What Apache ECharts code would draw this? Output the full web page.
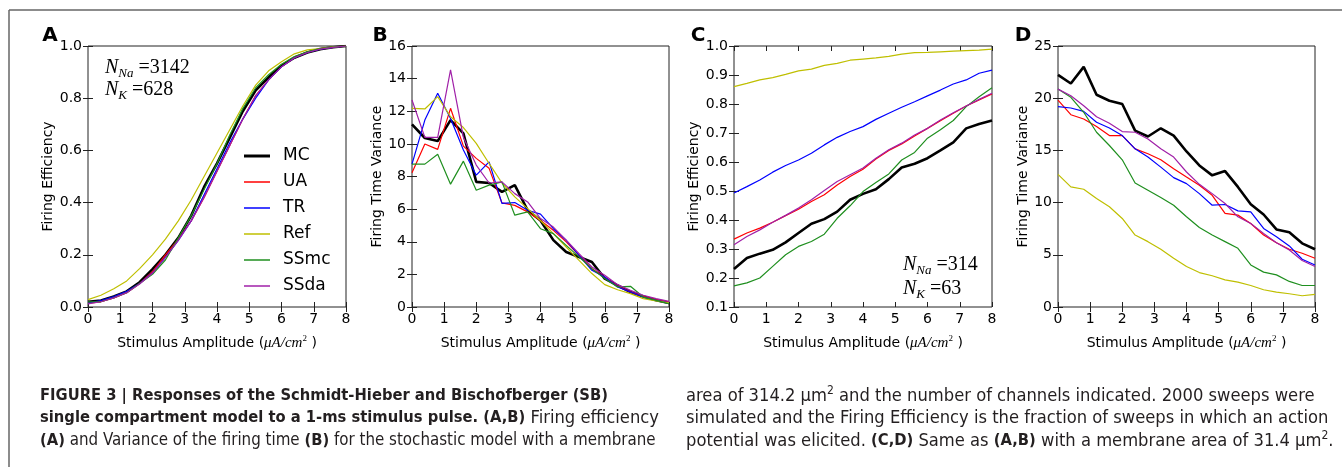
<!DOCTYPE html>
<html>
<head>
<meta charset="utf-8">
<script src="https://cdn.jsdelivr.net/npm/echarts@6/dist/echarts.min.js"></script>
<style>
  html, body { margin: 0; padding: 0; background: #fff; }
  #fig { width: 1342px; height: 467px; }
</style>
</head>
<body>
<div id="fig"></div>
<script>
// ── Data ────────────────────────────────────────────────────────────────
const xs = [0, 0.4, 0.8, 1.2, 1.6, 2.0, 2.4, 2.8, 3.2, 3.6, 4.0, 4.4, 4.8, 5.2, 5.6, 6.0, 6.4, 6.8, 7.2, 7.6, 8.0];
const names = ['MC', 'UA', 'TR', 'Ref', 'SSmc', 'SSda'];

// A: firing efficiency, 314.2 um^2
const aMC   = [0.02, 0.025, 0.04, 0.06, 0.095, 0.145, 0.20, 0.265, 0.35, 0.46, 0.55, 0.65, 0.75, 0.83, 0.88, 0.925, 0.955, 0.975, 0.988, 0.995, 1.0];
const aUA   = [0.015, 0.02, 0.035, 0.055, 0.09, 0.135, 0.20, 0.26, 0.33, 0.42, 0.52, 0.62, 0.72, 0.81, 0.87, 0.92, 0.955, 0.975, 0.99, 0.995, 1.0];
const aTR   = [0.015, 0.025, 0.04, 0.06, 0.09, 0.13, 0.19, 0.255, 0.33, 0.43, 0.53, 0.63, 0.72, 0.80, 0.87, 0.92, 0.955, 0.975, 0.988, 0.995, 1.0];
const aRef  = [0.028, 0.045, 0.07, 0.10, 0.147, 0.20, 0.26, 0.33, 0.41, 0.50, 0.59, 0.68, 0.77, 0.85, 0.905, 0.94, 0.97, 0.985, 0.99, 0.997, 1.0];
const aSSmc = [0.02, 0.02, 0.035, 0.055, 0.09, 0.125, 0.18, 0.265, 0.35, 0.45, 0.55, 0.66, 0.76, 0.84, 0.89, 0.93, 0.96, 0.978, 0.99, 0.996, 1.0];
const aSSda = [0.012, 0.02, 0.035, 0.055, 0.088, 0.13, 0.19, 0.255, 0.33, 0.42, 0.52, 0.62, 0.72, 0.81, 0.87, 0.92, 0.955, 0.975, 0.988, 0.995, 1.0];

// B: firing time variance, 314.2 um^2
const bMC   = [11.2, 10.36, 10.17, 11.46, 10.64, 7.67, 7.6, 7.06, 7.47, 5.93, 5.3, 4.1, 3.37, 3.07, 2.76, 1.74, 1.33, 0.92, 0.65, 0.41, 0.25];
const bUA   = [8.23, 9.99, 9.66, 12.18, 9.86, 9.11, 8.5, 6.38, 6.23, 5.83, 5.3, 4.7, 3.99, 3.17, 2.35, 1.84, 1.27, 0.92, 0.65, 0.45, 0.31];
const bTR   = [8.76, 11.46, 13.1, 11.56, 9.62, 8.08, 8.9, 6.35, 6.4, 5.93, 5.69, 4.8, 4.09, 3.17, 2.25, 1.84, 1.23, 0.92, 0.61, 0.41, 0.25];
const bRef  = [12.18, 12.14, 12.9, 11.66, 11.0, 10.03, 8.8, 7.6, 6.75, 6.03, 5.3, 4.5, 3.68, 2.86, 2.05, 1.37, 1.06, 0.82, 0.51, 0.37, 0.25];
const bSSmc = [8.76, 8.76, 9.36, 7.53, 8.94, 7.16, 7.47, 7.67, 5.63, 5.83, 4.8, 4.5, 3.78, 3.07, 2.35, 1.74, 1.23, 1.27, 0.61, 0.41, 0.2];
const bSSda = [12.69, 10.4, 10.4, 14.53, 10.4, 8.7, 7.6, 7.67, 6.95, 6.44, 5.42, 4.9, 4.09, 3.27, 2.45, 1.94, 1.37, 1.02, 0.72, 0.51, 0.35];

// C: firing efficiency, 31.4 um^2
const cMC   = [0.231, 0.269, 0.284, 0.297, 0.323, 0.355, 0.387, 0.403, 0.429, 0.47, 0.49, 0.506, 0.541, 0.581, 0.594, 0.613, 0.64, 0.668, 0.716, 0.731, 0.743];
const cUA   = [0.334, 0.355, 0.372, 0.392, 0.415, 0.437, 0.464, 0.487, 0.521, 0.55, 0.575, 0.61, 0.64, 0.662, 0.69, 0.716, 0.742, 0.768, 0.793, 0.814, 0.835];
const cTR   = [0.493, 0.515, 0.538, 0.565, 0.588, 0.607, 0.63, 0.659, 0.685, 0.705, 0.722, 0.747, 0.768, 0.789, 0.808, 0.828, 0.848, 0.869, 0.883, 0.906, 0.917];
const cRef  = [0.86, 0.871, 0.883, 0.891, 0.902, 0.914, 0.92, 0.933, 0.94, 0.951, 0.955, 0.959, 0.964, 0.972, 0.977, 0.978, 0.98, 0.982, 0.984, 0.986, 0.989];
const cSSmc = [0.173, 0.183, 0.2, 0.24, 0.28, 0.309, 0.326, 0.351, 0.406, 0.449, 0.498, 0.529, 0.559, 0.607, 0.633, 0.682, 0.711, 0.743, 0.791, 0.825, 0.856];
const cSSda = [0.315, 0.343, 0.366, 0.392, 0.416, 0.441, 0.47, 0.502, 0.533, 0.556, 0.579, 0.613, 0.642, 0.665, 0.693, 0.716, 0.745, 0.77, 0.793, 0.816, 0.837];

// D: firing time variance, 31.4 um^2
const dMC   = [22.24, 21.41, 23.0, 20.33, 19.76, 19.44, 16.9, 16.33, 17.12, 16.42, 14.9, 13.56, 12.61, 13.02, 11.5, 9.85, 8.86, 7.43, 7.15, 6.1, 5.53];
const dUA   = [19.82, 18.42, 18.01, 17.28, 16.42, 16.42, 15.15, 14.68, 14.1, 13.25, 12.45, 11.66, 10.7, 8.96, 8.8, 8.0, 6.89, 6.16, 5.53, 5.15, 4.67];
const dTR   = [19.19, 19.06, 18.74, 17.69, 17.15, 16.42, 15.15, 14.36, 13.4, 12.39, 11.82, 10.86, 9.75, 9.82, 9.21, 9.12, 7.53, 6.73, 5.85, 4.57, 4.03];
const dRef  = [12.71, 11.5, 11.28, 10.39, 9.6, 8.48, 6.89, 6.26, 5.53, 4.67, 3.88, 3.3, 2.99, 2.6, 2.38, 2.06, 1.65, 1.43, 1.27, 1.08, 1.21];
const dSSmc = [20.87, 20.08, 18.65, 16.74, 15.47, 14.1, 11.88, 11.18, 10.48, 9.75, 8.64, 7.62, 6.89, 6.26, 5.62, 4.03, 3.34, 3.08, 2.45, 2.06, 2.06];
const dSSda = [20.87, 20.24, 19.28, 18.23, 17.6, 16.8, 16.74, 16.1, 15.15, 14.36, 12.93, 11.75, 10.86, 9.91, 8.64, 8.0, 7.05, 6.16, 5.46, 4.45, 3.88];

// axis ranges per panel: [min, max, interval, decimals]
const yRanges = [[0, 1, 0.2, 1], [0, 16, 2, 0], [0.1, 1.0, 0.1, 1], [0, 25, 5, 0]];
const yTitles = ['Firing Efficiency', 'Firing Time Variance', 'Firing Efficiency', 'Firing Time Variance'];
const panelLetters = ['A', 'B', 'C', 'D'];

// ── Style ───────────────────────────────────────────────────────────────
const sans = 'DejaVu Sans';
const serif = 'Liberation Serif';
const colors = ['#000000', '#ff0000', '#0000ff', '#bfbf00', '#1f8f1f', '#a020a8'];
const widths = [2.6, 1.2, 1.2, 1.2, 1.2, 1.2];
const frameColor = '#222';

const grids = [
  { left: 88,   top: 46, width: 258, height: 261 },
  { left: 412,  top: 46, width: 257, height: 261 },
  { left: 734,  top: 46, width: 258, height: 261 },
  { left: 1058, top: 46, width: 257, height: 261 },
];

const panels = [
  [aMC, aUA, aTR, aRef, aSSmc, aSSda],
  [bMC, bUA, bTR, bRef, bSSmc, bSSda],
  [cMC, cUA, cTR, cRef, cSSmc, cSSda],
  [dMC, dUA, dTR, dRef, dSSmc, dSSda],
];

const tickLabel = { fontFamily: sans, fontSize: 14, color: '#000' };
const tick = { show: true, inside: true, length: 5, lineStyle: { color: frameColor, width: 1 } };

const xAxes = [], yAxes = [], series = [];
grids.forEach((g, p) => {
  const [ymin, ymax, yint, dec] = yRanges[p];
  xAxes.push({
    type: 'value', gridIndex: p, min: 0, max: 8, interval: 1,
    axisLine: { show: false }, axisTick: tick, splitLine: { show: false },
    axisLabel: { ...tickLabel, margin: 5 },
    name: 'Stimulus Amplitude ({m|μA/cm}{s|2} )',
    nameLocation: 'middle', nameGap: 27,
    nameTextStyle: {
      fontFamily: sans, fontSize: 14, color: '#000',
      rich: {
        m: { fontFamily: serif, fontStyle: 'italic', fontSize: 15, color: '#000', lineHeight: 18 },
        s: { fontFamily: serif, fontSize: 9, color: '#000', verticalAlign: 'top', lineHeight: 10 },
      },
    },
  });
  yAxes.push({
    type: 'value', gridIndex: p, min: ymin, max: ymax, interval: yint,
    axisLine: { show: false }, axisTick: tick, splitLine: { show: false },
    axisLabel: { ...tickLabel, margin: 6, formatter: (v) => v.toFixed(dec) },
    name: yTitles[p], nameLocation: 'middle', nameGap: p % 2 ? 28 : 33, nameRotate: 90,
    nameTextStyle: { fontFamily: sans, fontSize: 14, color: '#000' },
  });
  panels[p].forEach((arr, k) => {
    series.push({
      name: names[k], type: 'line', xAxisIndex: p, yAxisIndex: p,
      data: xs.map((x, i) => [x, arr[i]]),
      symbol: 'none', silent: true, z: 2 + k,
      lineStyle: { color: colors[k], width: widths[k] },
      itemStyle: { color: colors[k] },
    });
  });
});
// mirrored ticks on top and right
grids.forEach((g, p) => {
  const [ymin, ymax, yint] = yRanges[p];
  xAxes.push({ type: 'value', gridIndex: p, position: 'top', min: 0, max: 8, interval: 1,
    axisLine: { show: false }, axisTick: tick, axisLabel: { show: false }, splitLine: { show: false } });
  yAxes.push({ type: 'value', gridIndex: p, position: 'right', min: ymin, max: ymax, interval: yint,
    axisLine: { show: false }, axisTick: tick, axisLabel: { show: false }, splitLine: { show: false } });
});

// ── Annotations & caption ───────────────────────────────────────────────
const nRich = {
  n: { fontFamily: serif, fontStyle: 'italic', fontSize: 20, lineHeight: 24, verticalAlign: 'middle', fill: '#000' },
  s: { fontFamily: serif, fontStyle: 'italic', fontSize: 13, lineHeight: 12, verticalAlign: 'bottom', fill: '#000' },
  r: { fontFamily: serif, fontSize: 20, lineHeight: 24, verticalAlign: 'middle', fill: '#000' },
};
const capFont = '"DejaVu Sans Condensed", sans-serif';
const capRich = {
  t:  { fontFamily: capFont, fontSize: 18.2, lineHeight: 22, fill: '#231f20' },
  tn: { fontFamily: capFont, fontSize: 16.8, lineHeight: 22, fill: '#231f20' },
  b:  { fontFamily: capFont, fontSize: 16.4, fontWeight: 'bold', lineHeight: 22, fill: '#231f20' },
  u:  { fontFamily: capFont, fontSize: 12, lineHeight: 11, verticalAlign: 'top', fill: '#231f20' },
};
const capLines = [
  [40, 396, '{b|FIGURE 3 | Responses of the Schmidt-Hieber and Bischofberger (SB)}'],
  [40, 418, '{b|single compartment model to a 1-ms stimulus pulse. (A,B)}{t| Firing efficiency}'],
  [40, 441, '{b|(A)}{tn| and Variance of the firing time }{b|(B)}{tn| for the stochastic model with a membrane}'],
  [686, 396, '{t|area of 314.2 μm}{u|2}{t| and the number of channels indicated. 2000 sweeps were}'],
  [686, 418, '{t|simulated and the Firing Efficiency is the fraction of sweeps in which an action}'],
  [686, 441, '{t|potential was elicited. }{b|(C,D)}{t| Same as }{b|(A,B)}{t| with a membrane area of 31.4 μm}{u|2}{t|.}'],
];
const letterX = [50, 380, 698, 1023];

const graphic = [
  { type: 'line', shape: { x1: 9, y1: 10, x2: 1342, y2: 10 }, style: { stroke: '#666', lineWidth: 1.5 } },
  { type: 'line', shape: { x1: 9, y1: 10, x2: 9, y2: 467 }, style: { stroke: '#666', lineWidth: 1.5 } },
  ...panelLetters.map((t, i) => ({
    type: 'text', x: letterX[i], y: 36,
    style: { text: t, font: 'bold 20px "DejaVu Sans"', fill: '#000', align: 'center', verticalAlign: 'middle' },
  })),
  { type: 'text', x: 105, y: 68, style: { text: '{n|N}{s|Na}{r| =3142}', rich: nRich, verticalAlign: 'middle' } },
  { type: 'text', x: 105, y: 90, style: { text: '{n|N}{s|K}{r| =628}', rich: nRich, verticalAlign: 'middle' } },
  { type: 'text', x: 903, y: 265, style: { text: '{n|N}{s|Na}{r| =314}', rich: nRich, verticalAlign: 'middle' } },
  { type: 'text', x: 903, y: 289, style: { text: '{n|N}{s|K}{r| =63}', rich: nRich, verticalAlign: 'middle' } },
  ...capLines.map(([x, y, t]) => ({
    type: 'text', x: x, y: y, style: { text: t, rich: capRich, verticalAlign: 'middle' },
  })),
];

const legendBase = {
  show: true, orient: 'vertical', left: 239, itemWidth: 26, itemGap: 6, selectedMode: false,
  textStyle: { fontFamily: sans, fontSize: 17, color: '#000', lineHeight: 20, padding: [0, 0, 0, 8] },
};

const chart = echarts.init(document.getElementById('fig'), null, { renderer: 'canvas' });
chart.setOption({
  animation: false,
  backgroundColor: '#fff',
  grid: grids.map(g => ({ ...g, show: true, borderColor: frameColor, borderWidth: 1, backgroundColor: 'transparent' })),
  xAxis: xAxes,
  yAxis: yAxes,
  legend: [
    { ...legendBase, top: 141, itemHeight: 3, data: [{ name: names[0], icon: 'rect' }] },
    { ...legendBase, top: 167, itemHeight: 1.5, data: names.slice(1).map(n => ({ name: n, icon: 'rect' })) },
  ],
  series: series,
  graphic: graphic,
});
</script>
</body>
</html>
